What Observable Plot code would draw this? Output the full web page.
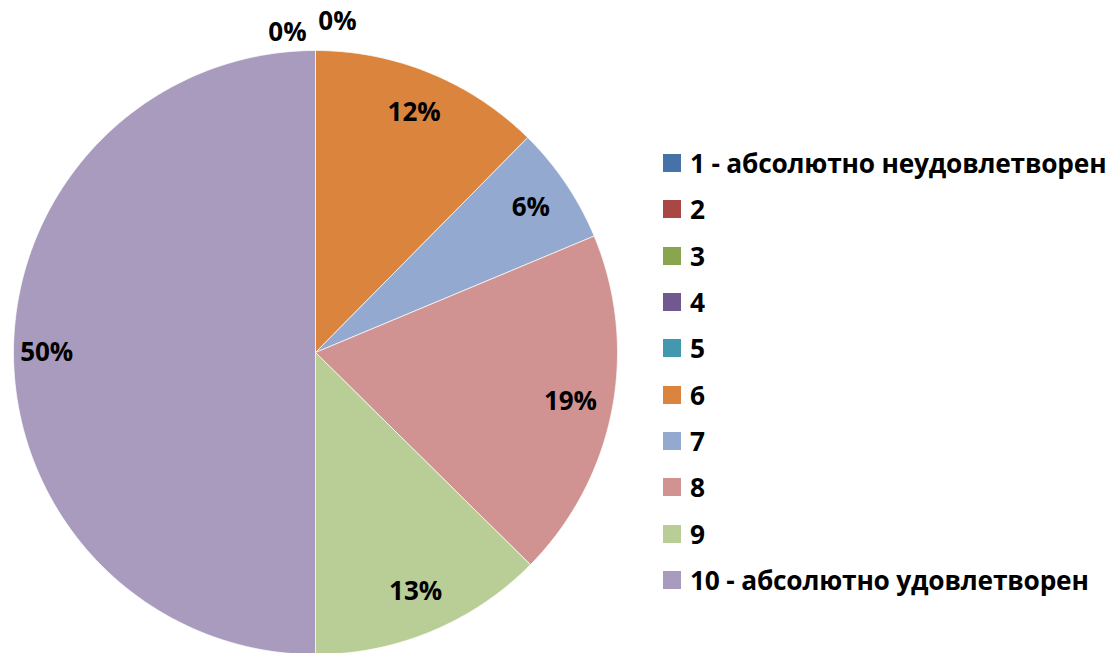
<!DOCTYPE html>
<html>
<head>
<meta charset="utf-8">
<script src="https://cdn.jsdelivr.net/npm/d3@7"></script>
<script src="https://cdn.jsdelivr.net/npm/@observablehq/plot@0.6"></script>
<style>
  body { margin: 0; background: #fff; font-family: "Open Sans", "Noto Sans", sans-serif; }
  #wrap { position: relative; width: 1118px; height: 653px; overflow: hidden; }
  #legend { position: absolute; left: 663px; top: 140px; }
  .row { display: flex; align-items: center; height: 46.3px; font-weight: bold; font-size: 26.3px; color: #000; white-space: nowrap; letter-spacing: -0.2px; }
  .sw { width: 18px; height: 18px; margin-right: 9px; flex: none; }
</style>
</head>
<body>
<div id="wrap"><div id="legend"></div></div>
<script>
const categories = ["1 - абсолютно неудовлетворен", "2", "3", "4", "5", "6", "7", "8", "9", "10 - абсолютно удовлетворен"];
const values = [0, 0, 0, 0, 0, 12.4, 6.3, 18.7, 12.6, 50];
const colors = ["#4572A7", "#AA4643", "#89A54E", "#71588F", "#4198AF", "#DB843D", "#93A9CF", "#D19392", "#B9CD96", "#A99BBD"];
const zeroLabelSlices = ["4", "5"];

const arcs = d3.pie().sort(null).value(d => d)(values);
const polys = [];
arcs.forEach((a, i) => {
  if (a.endAngle - a.startAngle <= 0) return;
  const n = 120;
  polys.push({cat: categories[i], x: 0, y: 0});
  for (let k = 0; k <= n; k++) {
    const t = a.startAngle + (a.endAngle - a.startAngle) * k / n;
    polys.push({cat: categories[i], x: Math.sin(t), y: Math.cos(t)});
  }
  polys.push({cat: categories[i], x: 0, y: 0});
});

const labels = arcs.map((a, i) => {
  const mid = (a.startAngle + a.endAngle) / 2;
  const r = values[i] >= 50 ? 0.89 : 0.86;
  return {cat: categories[i], text: Math.round(values[i]) + "%", x: r * Math.sin(mid), y: r * Math.cos(mid), v: values[i]};
}).filter(d => d.v > 0);

const zeroLabels = zeroLabelSlices.map((c, j) => ({cat: c, text: "0%", x: 0, y: j === 0 ? 1.06 : 1.095, dx: j === 0 ? -28 : 22}));

const color = {domain: categories, range: colors};

const chart = Plot.plot({
  width: 1118, height: 653,
  marginTop: 0, marginBottom: 0, marginLeft: 0, marginRight: 0,
  x: {domain: [-1, 1], range: [13, 617], axis: null},
  y: {domain: [-1, 1], range: [654, 50], axis: null},
  color,
  style: {fontFamily: "'Open Sans', 'Noto Sans', sans-serif", background: "transparent"},
  marks: [
    ...categories.filter((c, i) => values[i] > 0).map(c =>
      Plot.line(polys.filter(p => p.cat === c), {x: "x", y: "y", fill: colors[categories.indexOf(c)], stroke: "#fff", strokeWidth: 0.7, curve: "linear"})
    ),
    Plot.text(labels, {x: "x", y: "y", text: "text", fontSize: 26, fontWeight: "bold", fill: "#000"}),
    Plot.text(zeroLabels.filter(d => d.dx < 0), {x: "x", y: "y", text: "text", dx: -28, fontSize: 26, fontWeight: "bold", fill: "#000"}),
    Plot.text(zeroLabels.filter(d => d.dx > 0), {x: "x", y: "y", text: "text", dx: 22, fontSize: 26, fontWeight: "bold", fill: "#000"})
  ]
});
document.getElementById("wrap").prepend(chart);

const legend = document.getElementById("legend");
categories.forEach((c, i) => {
  const row = document.createElement("div");
  row.className = "row";
  const sw = document.createElement("span");
  sw.className = "sw";
  sw.style.background = colors[i];
  const t = document.createElement("span");
  t.textContent = c;
  row.append(sw, t);
  legend.append(row);
});
</script>
</body>
</html>
